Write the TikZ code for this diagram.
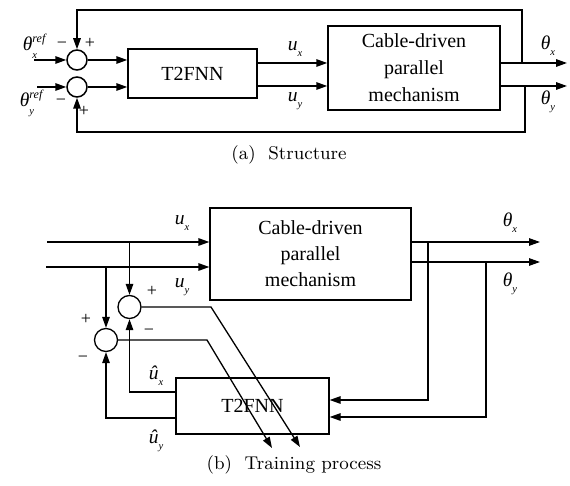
\documentclass[tikz,border=0pt]{standalone}
\usepackage{fontspec}
\newfontfamily\tms{Liberation Serif}
\newfontfamily\capfont{lmroman9-regular}[Extension=.otf]
\usetikzlibrary{arrows.meta}
\newcommand\sublab[2]{{\tms\itshape #1}\raisebox{-0.75ex}{\fontsize{10.5}{10.5}\selectfont\tms\itshape #2}}
\newcommand\reflab[2]{{\tms\itshape #1}\makebox[0pt][l]{\raisebox{1.0ex}{\fontsize{12}{12}\selectfont\tms\itshape ref}}\raisebox{-0.9ex}{\fontsize{10.5}{10.5}\selectfont\tms\itshape #2}}
\newcommand\hatlab[2]{{\tms\itshape \^{#1}}\raisebox{-0.75ex}{\fontsize{10.5}{10.5}\selectfont\tms\itshape #2}}
\begin{document}
\begin{tikzpicture}[x=1pt,y=-1pt,
  line width=1.5pt,
  >={Triangle[length=11pt,width=7.5pt]},
  blk/.style={draw,line width=1.5pt,inner sep=0pt,align=center,font=\tms\fontsize{20}{27}\selectfont},
  sumc/.style={draw,circle,line width=1.5pt,minimum size=20pt,inner sep=0pt},
  sumb/.style={draw,circle,line width=1.3pt,minimum size=23pt,inner sep=0pt},
  lab/.style={inner sep=0pt,font=\fontsize{19.5}{19.5}\selectfont},
  sgn/.style={inner sep=0pt,font=\tms\fontsize{18}{18}\selectfont},
  captxt/.style={inner sep=0pt,font=\capfont\fontsize{18.5}{20}\selectfont}]
\useasboundingbox (0,0) rectangle (570,486);
% ---------- (a) ----------
\node[blk,minimum width=129pt,minimum height=49pt] (t2a) at (192.5,73.5) {T2FNN};
\node[blk,minimum width=172pt,minimum height=84pt] (caba) at (414,68) {Cable-driven\\parallel\\mechanism};
\node[sumc] (s1) at (77,60) {};
\node[sumc] (s2) at (77,87) {};
\coordinate (inx) at (34,60);
\coordinate (iny) at (37,87);
\coordinate (ox) at (567,63);
\coordinate (oy) at (567,86);
\coordinate (fx) at (522,63);
\coordinate (fy) at (525,86);
\draw[->] (inx) -- (s1);
\draw[->] (iny) -- (s2);
\draw[->] (s1) -- (s1 -| t2a.west);
\draw[->] (s2) -- (s2 -| t2a.west);
\draw[->] (t2a.east |- ox) -- (caba.west |- ox);
\draw[->] (t2a.east |- oy) -- (caba.west |- oy);
\draw[->] (caba.east |- ox) -- (ox);
\draw[->] (caba.east |- oy) -- (oy);
\draw[->] (fx) -- (522,10) -- (77,10) -- (s1.north);
\draw[->] (fy) -- (525,132) -- (77,132) -- (s2.south);
\node[lab] (lrx) at (30,46) {\reflab{θ}{x}};
\node[lab] (lry) at (27,103) {\reflab{θ}{y}};
\node[sgn] (m1) at (62,45) {\textminus};
\node[sgn] (p1) at (90,43) {+};
\node[sgn] (m2) at (61,102) {\textminus};
\node[sgn] (p2) at (84,111) {+};
\node[lab] (lux) at (295,49) {\sublab{u}{x}};
\node[lab] (luy) at (295,101) {\sublab{u}{y}};
\node[lab] (ltx) at (548,46) {\sublab{θ}{x}};
\node[lab] (lty) at (548,102) {\sublab{θ}{y}};
\node[captxt] (capa) at (289,155) {(a)\ \ Structure};
% ---------- (b) ----------
\begin{scope}[line width=1.3pt]
\node[blk,line width=1.3pt,minimum width=201pt,minimum height=92pt,font=\tms\fontsize{20}{26}\selectfont] (cabb) at (310.5,254) {Cable-driven\\parallel\\mechanism};
\node[blk,line width=1.3pt,minimum width=153pt,minimum height=56pt] (t2b) at (252.5,406) {T2FNN};
\node[sumb] (sa) at (129.5,307) {};
\node[sumb] (sb) at (106,340) {};
\coordinate (ix2) at (47,242);
\coordinate (iy2) at (46,267);
\coordinate (ox2) at (540,242);
\coordinate (oy2) at (540,262);
\coordinate (ea) at (300,447);
\coordinate (eb) at (272,448);
\draw[->] (ix2) -- (ix2 -| cabb.west);
\draw[->] (iy2) -- (iy2 -| cabb.west);
\draw[->] (sa.north |- ix2) -- (sa.north);
\draw[->] (sb.north |- iy2) -- (sb.north);
\draw[->] (cabb.east |- ox2) -- (ox2);
\draw[->] (cabb.east |- oy2) -- (oy2);
\draw[->] (sa.east) -- (211,307) -- (ea);
\draw[->] (sb.east) -- (207,340) -- (eb);
\draw[->] (t2b.west |- 0,392) -- (129.5,392) -- (sa.south);
\draw[->] (t2b.west |- 0,418) -- (106,418) -- (sb.south);
\draw[->] (428,242) -- (428,400) -- (t2b.east |- 0,400);
\draw[->] (486,262) -- (486,417) -- (t2b.east |- 0,417);
\node[lab] (lux2) at (182,223) {\sublab{u}{x}};
\node[lab] (luy2) at (182,287) {\sublab{u}{y}};
\node[lab] (ltx2) at (510,223) {\sublab{θ}{x}};
\node[lab] (lty2) at (510,284) {\sublab{θ}{y}};
\node[lab] (lhx) at (156,376) {\hatlab{u}{x}};
\node[lab] (lhy) at (156,441) {\hatlab{u}{y}};
\node[sgn] (pa) at (152,291) {+};
\node[sgn] (pb) at (86,319) {+};
\node[sgn] (ma) at (149,332) {\textminus};
\node[sgn] (mb) at (83,359) {\textminus};
\end{scope}
\node[captxt] (capb) at (294,465) {(b)\ \ Training process};
\end{tikzpicture}
\end{document}
